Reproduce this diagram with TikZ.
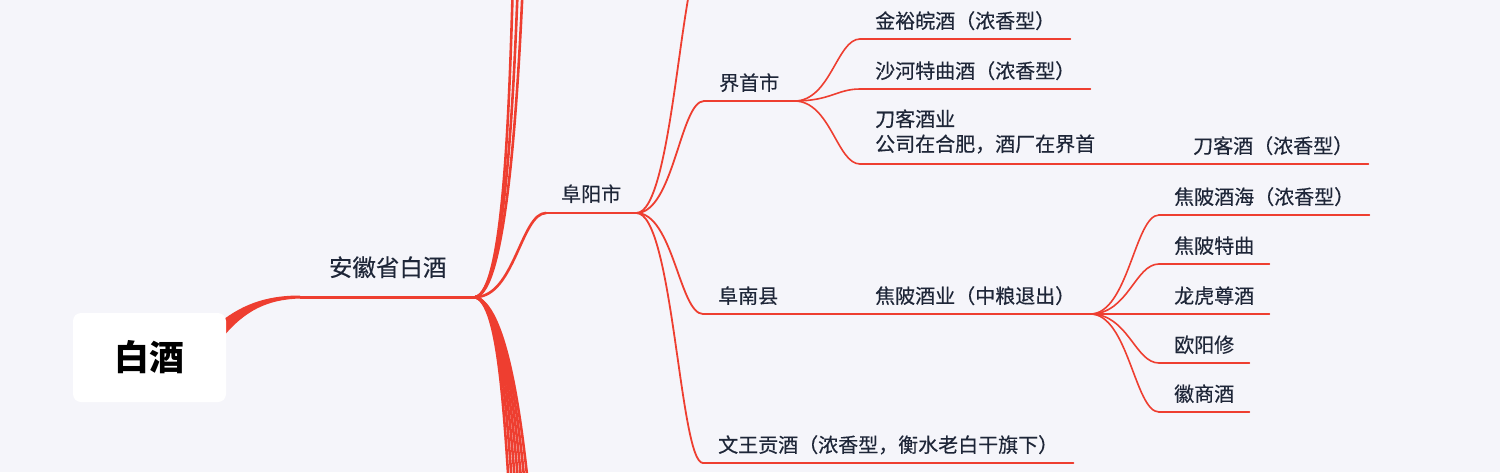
\documentclass[tikz,border=0pt]{standalone}
\usepackage{fontspec}
\newfontfamily\cjk[FakeBold=0.35]{Noto Sans CJK SC}
\newfontfamily\cjkroot{Noto Sans CJK SC}
\usetikzlibrary{calc,backgrounds}
\definecolor{bg}{RGB}{245,245,250}
\definecolor{br}{RGB}{238,62,48}
\definecolor{tx}{RGB}{30,38,56}
\newcommand{\dep}{\rule[-4pt]{0pt}{4pt}}
\tikzset{
  tp/.style={anchor=south west, inner xsep=15pt, inner ysep=6.5pt, text=tx,
    font=\cjk\fontsize{20}{25}\selectfont, execute at end node=\dep},
  lone/.style={font=\cjk\fontsize{23.5}{28}\selectfont, minimum width=175pt,
    inner xsep=0pt, inner ysep=16.6pt},
  rootbox/.style={fill=white, rounded corners=8pt, minimum width=153pt,
    minimum height=89pt, inner sep=0pt, text=black,
    font=\cjkroot\bfseries\fontsize{35}{40}\selectfont},
  mm/.style={to path={.. controls ($(\tikztostart)!0.55!(\tikztotarget|-\tikztostart)$)
    and ($(\tikztostart|-\tikztotarget)!0.65!(\tikztotarget)$) .. (\tikztotarget)}},
  wone/.style={draw=br, line width=3pt},
  wtwo/.style={draw=br, line width=2.6pt, line cap=round},
  wthree/.style={draw=br, line width=1.8pt, line cap=round},
  wfour/.style={draw=br, line width=1.6pt, line cap=round},
}
\begin{document}
\begin{tikzpicture}[x=1pt,y=-1pt]
\useasboundingbox (0,0) rectangle (1500,472);
% ---- nodes ----
\node[rootbox] (root) at (149.5,357.5) {白酒};
\node[tp, lone] (anhui) at (300,297) {安徽省白酒};
\node[tp, inner ysep=7.4pt] (fuyang) at (546,213) {阜阳市};
\node[tp] (jieshou) at (704,101) {界首市};
\node[tp] (funan) at (703,314) {阜南县};
\node[tp] (wenwang) at (703,463) {文王贡酒（浓香型，衡水老白干旗下）};
\node[tp] (jinyu) at (860,39) {金裕皖酒（浓香型）};
\node[tp] (shahe) at (860,89) {沙河特曲酒（浓香型）};
\node[tp, align=left, inner ysep=8.4pt] (daoke) at (860,164) {刀客酒业\\公司在合肥，酒厂在界首};
\node[tp] (daokejiu) at (1178,164) {刀客酒（浓香型）};
\node[tp] (jiaopi) at (860,314) {焦陂酒业（中粮退出）};
\node[tp] (jph) at (1159,215) {焦陂酒海（浓香型）};
\node[tp] (jptq) at (1159,264) {焦陂特曲};
\node[tp] (lhz) at (1159,314) {龙虎尊酒};
\node[tp] (oyx) at (1159,363) {欧阳修};
\node[tp] (hsj) at (1159,412) {徽商酒};
% off-view branch ends
\coordinate (upa) at (513,-20);
\coordinate (upb) at (518,-20);
\coordinate (upc) at (523,-20);
\coordinate (fyup) at (705,-50);
% ---- connectors ----
\begin{scope}[on background layer]
\fill[bg] (0,0) rectangle (1500,472);
\clip (0,0) rectangle (1500,472);
% root -> anhui (tapered)
\fill[br] ($(root.east)+(-11,-31.5)$) .. controls (240,305) and (265,295.5) ..
  ($(anhui.south west)+(0,-1.5)$) -- ($(anhui.south west)+(0,1.5)$)
  .. controls (268,299.5) and (245,310) .. ($(root.east)+(-4,-19.5)$) -- cycle;
\draw[wone] (anhui.south west) -- (anhui.south east);
% anhui fork
\draw[wtwo] (anhui.south east) .. controls (503,292) and (509,120) .. (upa);
\draw[wtwo] (anhui.south east) .. controls (503,292) and (513,120) .. (upb);
\draw[wtwo] (anhui.south east) .. controls (505,292) and (517,120) .. (upc);
\foreach \i in {0,...,6}{
  \coordinate (dn\i) at ({512+3.5*\i},540);
  \draw[wtwo] (anhui.south east) .. controls ({498+\i},305) and ({504+3*\i},400) .. (dn\i);
}
\draw[wtwo] (anhui.south east) to[mm] (fuyang.south west);
\draw[draw=br, line width=2.4pt] (fuyang.south west) -- (fuyang.south east);
% fuyang fork
\draw[wthree] (fuyang.south east) to[mm] (fyup);
\draw[wthree] (fuyang.south east) to[mm] (jieshou.south west);
\draw[wthree] (fuyang.south east) to[mm] (funan.south west);
\draw[wthree] (fuyang.south east) to[mm] (wenwang.south west);
\draw[wthree] (jieshou.south west) -- (jieshou.south east);
\draw[wthree] (funan.south west) -- (funan.south east);
\draw[wthree] (wenwang.south west) -- (wenwang.south east);
% jieshou fork
\draw[wfour] (jieshou.south east) to[mm] (jinyu.south west);
\draw[wfour] (jieshou.south east) to[mm] (shahe.south west);
\draw[wfour] (jieshou.south east) to[mm] (daoke.south west);
\draw[wfour] (jinyu.south west) -- (jinyu.south east);
\draw[wfour] (shahe.south west) -- (shahe.south east);
\draw[wfour] (daoke.south west) -- (daoke.south east);
\draw[wfour] (daoke.south east) -- (daokejiu.south west);
\draw[wfour] (daokejiu.south west) -- (daokejiu.south east);
% funan -> jiaopi
\draw[wfour] (funan.south east) -- (jiaopi.south west);
\draw[wfour] (jiaopi.south west) -- (jiaopi.south east);
% jiaopi fork
\foreach \n in {jph,jptq,lhz,oyx,hsj}{
  \draw[wfour] (jiaopi.south east) to[mm] (\n.south west);
  \draw[wfour] (\n.south west) -- (\n.south east);
}
\end{scope}
\end{tikzpicture}
\end{document}
